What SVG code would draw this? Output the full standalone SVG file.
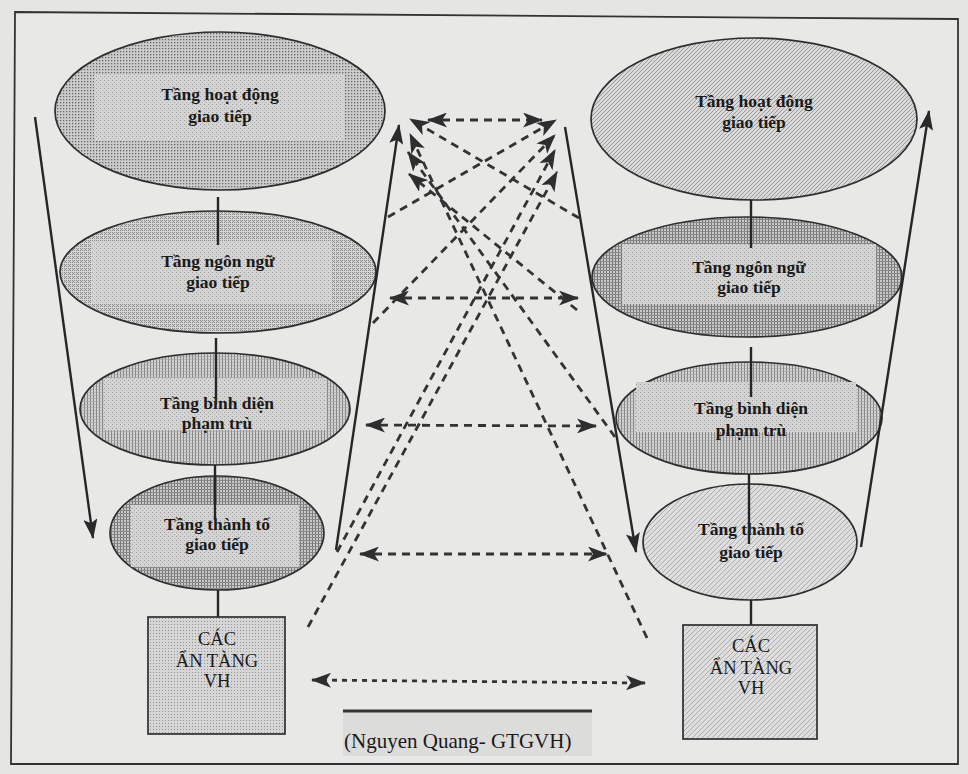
<svg xmlns="http://www.w3.org/2000/svg" width="968" height="774" viewBox="0 0 968 774">
  <style>
    .lbl { font-family: "Liberation Serif", "Times New Roman", serif; font-weight: bold; font-size: 17.5px; fill: #1a1a1a; text-anchor: middle; }
    .box-lbl { font-family: "Liberation Serif", "Times New Roman", serif; font-size: 18.5px; fill: #1a1a1a; text-anchor: middle; }
    .cap { font-family: "Liberation Serif", "Times New Roman", serif; font-size: 21px; fill: #1a1a1a; }
    .shape { stroke: #2e2e2e; stroke-width: 1.7; }
    .link { stroke: #262626; stroke-width: 2.4; fill: none; }
    .flow { stroke: #262626; stroke-width: 2.4; fill: none; }
    .dash { stroke: #333; stroke-width: 2.8; fill: none; stroke-dasharray: 8 6; }
    .dot { stroke: #333; stroke-width: 2.8; fill: none; stroke-dasharray: 5 5; }
  </style>
  <defs>
    <!-- halftone fills -->
    <pattern id="pDots" width="3" height="3" patternUnits="userSpaceOnUse">
      <rect width="3" height="3" fill="#cccccc"/>
      <rect width="1.3" height="1.3" fill="#666"/>
    </pattern>
    <pattern id="pCross" width="4" height="4" patternUnits="userSpaceOnUse">
      <rect width="4" height="4" fill="#d6d6d6"/>
      <path d="M0,0h1v1h-1zM2,0h1v1h-1zM1,1h1v1h-1zM0,2h1v1h-1zM2,2h1v1h-1z" fill="#888"/>
    </pattern>
    <pattern id="pVert" width="3" height="3" patternUnits="userSpaceOnUse">
      <rect width="3" height="3" fill="#d2d2d2"/>
      <rect width="1" height="3" fill="#868686"/>
      <rect y="2" width="3" height="0.6" fill="#a4a4a4"/>
    </pattern>
    <pattern id="pGrid" width="3" height="3" patternUnits="userSpaceOnUse">
      <rect width="3" height="3" fill="#c8c8c8"/>
      <rect width="1" height="3" fill="#777"/>
      <rect width="3" height="1" fill="#888"/>
    </pattern>
    <pattern id="pDiag" width="4" height="4" patternUnits="userSpaceOnUse">
      <rect width="4" height="4" fill="#d9d9d9"/>
      <path d="M0,4L4,0" stroke="#9a9a9a" stroke-width="1"/>
    </pattern>
    <pattern id="pDiagLight" width="5" height="5" patternUnits="userSpaceOnUse">
      <rect width="5" height="5" fill="#dedede"/>
      <path d="M0,5L5,0" stroke="#acacac" stroke-width="1"/>
    </pattern>
    <pattern id="pSoft" width="4" height="4" patternUnits="userSpaceOnUse">
      <rect width="4" height="4" fill="#d4d4d2"/>
      <rect width="1" height="1" fill="#9c9c9c"/>
      <rect x="2" y="2" width="1" height="1" fill="#aeaeae"/>
    </pattern>
    <pattern id="pBox" width="3" height="3" patternUnits="userSpaceOnUse">
      <rect width="3" height="3" fill="#d6d6d6"/>
      <rect width="1" height="1" fill="#929292"/>
    </pattern>
    <marker id="head" viewBox="0 0 20 15" refX="19" refY="7.5" markerWidth="20" markerHeight="15" markerUnits="userSpaceOnUse" orient="auto-start-reverse">
      <path d="M0,0 L20,7.5 L0,15 L5,7.5 z" fill="#2e2e2e"/>
    </marker>
    <marker id="headBig" viewBox="0 0 20 14" refX="19" refY="7" markerWidth="20" markerHeight="14" markerUnits="userSpaceOnUse" orient="auto-start-reverse">
      <path d="M0,0 L20,7 L0,14 L4,7 z" fill="#2a2a2a"/>
    </marker>
  </defs>

  <!-- page and frame -->
  <rect width="968" height="774" fill="#e5e5e3"/>
  <polygon points="15,12 958,19 958,764 11,764" fill="#e8e8e6" stroke="#333" stroke-width="1.8"/>

  <!-- left column -->
  <g id="left-activity">
    <ellipse class="shape" cx="220" cy="111" rx="165" ry="79" fill="url(#pDots)"/>
    <rect x="94" y="74" width="250" height="66" fill="url(#pSoft)"/>
    <text class="lbl" x="220" y="100">Tầng hoạt động</text>
    <text class="lbl" x="220" y="122">giao tiếp</text>
  </g>
  <g id="left-language">
    <ellipse class="shape" cx="218" cy="272" rx="158" ry="61" fill="url(#pCross)"/>
    <rect x="92" y="241" width="240" height="62" fill="url(#pSoft)"/>
    <text class="lbl" x="218" y="267">Tầng ngôn ngữ</text>
    <text class="lbl" x="218" y="288">giao tiếp</text>
  </g>
  <g id="left-category">
    <ellipse class="shape" cx="215" cy="409" rx="135" ry="56" fill="url(#pVert)"/>
    <rect x="104" y="378" width="222" height="52" fill="url(#pSoft)"/>
    <text class="lbl" x="217" y="409">Tầng bình diện</text>
    <text class="lbl" x="217" y="429">phạm trù</text>
  </g>
  <g id="left-element">
    <ellipse class="shape" cx="217" cy="533" rx="107" ry="57" fill="url(#pGrid)"/>
    <rect x="131" y="505" width="168" height="62" fill="url(#pSoft)"/>
    <text class="lbl" x="217" y="530">Tầng thành tố</text>
    <text class="lbl" x="217" y="550">giao tiếp</text>
  </g>
  <g id="left-culture">
    <rect class="shape" x="148" y="617" width="137" height="117" fill="url(#pBox)"/>
    <text class="box-lbl" x="217" y="645">CÁC</text>
    <text class="box-lbl" x="217" y="667">ẨN TÀNG</text>
    <text class="box-lbl" x="217" y="687">VH</text>
  </g>

  <!-- right column -->
  <g id="right-activity">
    <ellipse class="shape" cx="754" cy="119" rx="163" ry="81" fill="url(#pDiag)"/>
    <text class="lbl" x="754" y="107">Tầng hoạt động</text>
    <text class="lbl" x="754" y="128">giao tiếp</text>
  </g>
  <g id="right-language">
    <ellipse class="shape" cx="747" cy="277" rx="155" ry="60" fill="url(#pGrid)"/>
    <rect x="622" y="244" width="254" height="60" fill="url(#pSoft)"/>
    <text class="lbl" x="749" y="273">Tầng ngôn ngữ</text>
    <text class="lbl" x="749" y="293">giao tiếp</text>
  </g>
  <g id="right-category">
    <ellipse class="shape" cx="749" cy="418" rx="133" ry="56" fill="url(#pVert)"/>
    <rect x="636" y="382" width="220" height="50" fill="url(#pSoft)"/>
    <text class="lbl" x="751" y="414">Tầng bình diện</text>
    <text class="lbl" x="751" y="436">phạm trù</text>
  </g>
  <g id="right-element">
    <ellipse class="shape" cx="750" cy="542" rx="107" ry="58" fill="url(#pDiagLight)"/>
    <text class="lbl" x="751" y="535">Tầng thành tố</text>
    <text class="lbl" x="751" y="558">giao tiếp</text>
  </g>
  <g id="right-culture">
    <rect class="shape" x="683" y="625" width="134" height="114" fill="url(#pDiagLight)"/>
    <text class="box-lbl" x="751" y="652">CÁC</text>
    <text class="box-lbl" x="751" y="674">ẨN TÀNG</text>
    <text class="box-lbl" x="751" y="694">VH</text>
  </g>

  <!-- source caption -->
  <g id="caption">
    <rect x="343" y="712" width="249" height="44" fill="#dcdcda"/>
    <line x1="343" y1="711" x2="592" y2="711" stroke="#333" stroke-width="3.2"/>
    <text class="cap" x="344" y="748">(Nguyen Quang- GTGVH)</text>
  </g>

  <g id="connectors">
    <!-- stacking links, left -->
    <line class="link" x1="218" y1="197" x2="218" y2="245"/>
    <line class="link" x1="216" y1="338" x2="216" y2="404"/>
    <line class="link" x1="215" y1="465" x2="215" y2="520"/>
    <line class="link" x1="218" y1="590" x2="218" y2="617"/>
    <!-- stacking links, right -->
    <line class="link" x1="751" y1="200" x2="751" y2="248"/>
    <line class="link" x1="751" y1="347" x2="751" y2="397"/>
    <line class="link" x1="749" y1="474" x2="749" y2="544"/>
    <line class="link" x1="751" y1="600" x2="751" y2="625"/>

    <!-- outer flows -->
    <line class="flow" x1="35" y1="117" x2="93" y2="538" marker-end="url(#headBig)"/>
    <line class="flow" x1="336" y1="550" x2="399" y2="125" marker-end="url(#headBig)"/>
    <line class="flow" x1="565" y1="127" x2="636" y2="552" marker-end="url(#headBig)"/>
    <line class="flow" x1="861" y1="547" x2="929" y2="111" marker-end="url(#headBig)"/>

    <!-- same-level exchanges -->
    <line class="dash" x1="428" y1="120" x2="542" y2="120" marker-start="url(#head)" marker-end="url(#head)"/>
    <line class="dash" x1="390" y1="298" x2="578" y2="298" marker-start="url(#head)" marker-end="url(#head)"/>
    <line class="dash" x1="366" y1="425" x2="596" y2="426" marker-start="url(#head)" marker-end="url(#head)"/>
    <line class="dash" x1="360" y1="554" x2="607" y2="554" marker-start="url(#head)" marker-end="url(#head)"/>
    <line class="dot" x1="312" y1="680" x2="645" y2="683" marker-start="url(#head)" marker-end="url(#head)"/>

    <!-- right levels up to left activity -->
    <line class="dash" x1="579" y1="218" x2="410" y2="119" marker-end="url(#head)"/>
    <line class="dash" x1="647" y1="638" x2="410" y2="134" marker-end="url(#head)"/>
    <line class="dash" x1="615" y1="437" x2="408" y2="152" marker-end="url(#head)"/>
    <line class="dash" x1="577" y1="310" x2="409" y2="174" marker-end="url(#head)"/>

    <!-- left levels up to right activity -->
    <line class="dash" x1="388" y1="217" x2="556" y2="120" marker-end="url(#head)"/>
    <line class="dash" x1="373" y1="323" x2="555" y2="135" marker-end="url(#head)"/>
    <line class="dash" x1="337" y1="552" x2="555" y2="150" marker-end="url(#head)"/>
    <line class="dash" x1="308" y1="627" x2="557" y2="172" marker-end="url(#head)"/>
  </g>
</svg>
